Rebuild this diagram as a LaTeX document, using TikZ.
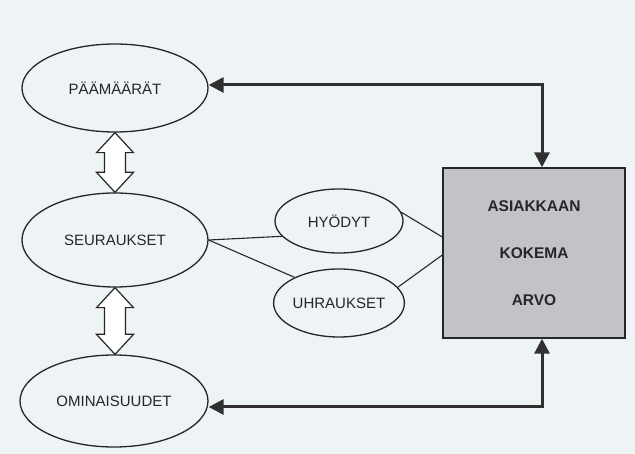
\documentclass[tikz,border=0pt]{standalone}
\usepackage{fontspec}
\setmainfont{Liberation Sans}
\usetikzlibrary{arrows.meta,shapes.geometric,calc}
\definecolor{paper}{HTML}{EEF3F6}
\definecolor{ink}{HTML}{262626}
\definecolor{boxgray}{HTML}{C2C3C9}
\definecolor{arrowink}{HTML}{303030}

\tikzset{
  goal/.style={ellipse,draw=ink,line width=1.3pt,minimum width=186pt,minimum height=88pt,
    inner sep=0pt,font=\fontsize{15}{17}\selectfont},
  small/.style={ellipse,draw=ink,line width=1.3pt,minimum width=128pt,minimum height=64pt,
    inner sep=0pt,font=\fontsize{15}{17}\selectfont},
  valuebox/.style={draw=ink,line width=1.4pt,fill=boxgray,minimum width=182pt,minimum height=170pt,
    align=center,font=\bfseries\fontsize{15.5}{47}\selectfont},
  link/.style={draw=ink,line width=1.1pt},
  flow/.style={draw=arrowink,line width=3pt,{Triangle[length=15pt,width=15pt]}-{Triangle[length=15pt,width=15pt]}},
  fatarr/.style={draw=ink,line width=1.2pt,fill=white,line join=miter}
}
% hollow double arrow between two anchors (same x)
\newcommand\fatarrow[2]{%
  \draw[fatarr] let \p1=(#1), \p2=(#2) in
    (\x1,\y1) -- (\x1+18.5pt,\y1-20pt) -- (\x1+10.5pt,\y1-20pt) -- (\x1+10.5pt,\y2+20pt)
    -- (\x1+18.5pt,\y2+20pt) -- (\x1,\y2) -- (\x1-18.5pt,\y2+20pt) -- (\x1-10.5pt,\y2+20pt)
    -- (\x1-10.5pt,\y1-20pt) -- (\x1-18.5pt,\y1-20pt) -- cycle;}

\begin{document}
\begin{tikzpicture}[x=1pt,y=-1pt,every node/.style={text=ink}]
\fill[paper] (0,0) rectangle (635,454);
\useasboundingbox (0,0) rectangle (635,454);
% left column
\node[goal] (paamaarat) at (115,88) {PÄÄMÄÄRÄT};
\node[goal,minimum height=94pt] (seuraukset) at (115,240) {SEURAUKSET};
\node[goal,minimum width=188pt,minimum height=92pt] (ominaisuudet) at (114,401) {OMINAISUUDET};
% benefits and sacrifices
\node[small] (hyodyt) at (339,221) {HYÖDYT};
\node[small,minimum height=68pt] (uhraukset) at (339,303) {UHRAUKSET};
% perceived value
\node[valuebox] (arvo) at (534,253) {ASIAKKAAN\\KOKEMA\\ARVO};
% thin links
\draw[link] (seuraukset.east) -- (hyodyt.195);
\draw[link] (seuraukset.east) -- (uhraukset.150);
\draw[link] (hyodyt.8) -- ([yshift=16pt]arvo.west);
\draw[link] (uhraukset.15) -- ([yshift=-2pt]arvo.west);
% hollow arrows
\fatarrow{paamaarat.south}{seuraukset.north}
\fatarrow{seuraukset.south}{ominaisuudet.north}
% feedback arrows
\draw[flow] ([xshift=8pt]arvo.north) |- ([yshift=3pt]paamaarat.east);
\draw[flow] ([xshift=8pt]arvo.south) |- ([yshift=-6pt]ominaisuudet.east);
\end{tikzpicture}
\end{document}
